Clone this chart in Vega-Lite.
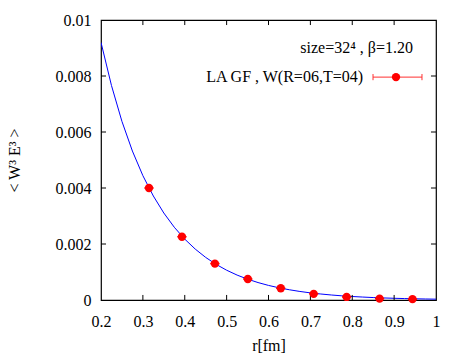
{
  "$schema": "https://vega.github.io/schema/vega-lite/v6.json",
  "width": 335,
  "height": 280,
  "autosize": "none",
  "padding": {"left": 101, "top": 20, "right": 27, "bottom": 54},
  "background": "white",
  "config": {
    "view": {"stroke": "black", "strokeWidth": 1.2},
    "font": "Liberation Serif",
    "axis": {"grid": false, "domain": false, "ticks": false, "labelFlush": false, "labelFont": "Liberation Serif", "labelFontSize": 16, "labelColor": "black", "titleFont": "Liberation Serif", "titleFontSize": 16, "titleFontWeight": "normal", "titleColor": "black"}
  },
  "datasets": {
    "pts": [
      {"r": 0.3146, "v": 0.00400, "rlo": 0.3036, "rhi": 0.3256},
      {"r": 0.3933, "v": 0.00226, "rlo": 0.3823, "rhi": 0.4043},
      {"r": 0.4720, "v": 0.00130, "rlo": 0.4610, "rhi": 0.4830},
      {"r": 0.5506, "v": 0.00075, "rlo": 0.5396, "rhi": 0.5616},
      {"r": 0.6293, "v": 0.00042, "rlo": 0.6183, "rhi": 0.6403},
      {"r": 0.7079, "v": 0.00022, "rlo": 0.6969, "rhi": 0.7189},
      {"r": 0.7866, "v": 0.00011, "rlo": 0.7756, "rhi": 0.7976},
      {"r": 0.8653, "v": 0.00005, "rlo": 0.8543, "rhi": 0.8763},
      {"r": 0.9439, "v": 0.00003, "rlo": 0.9329, "rhi": 0.9549}
    ],
    "fit": [
      {"r": 0.2, "v": 0.00920}, {"r": 0.225, "v": 0.00766}, {"r": 0.25, "v": 0.00638},
      {"r": 0.275, "v": 0.005320}, {"r": 0.3, "v": 0.00444}, {"r": 0.325, "v": 0.003714},
      {"r": 0.35, "v": 0.003107}, {"r": 0.375, "v": 0.002599}, {"r": 0.4, "v": 0.002174},
      {"r": 0.425, "v": 0.001819}, {"r": 0.45, "v": 0.001521}, {"r": 0.475, "v": 0.001272},
      {"r": 0.5, "v": 0.001064}, {"r": 0.525, "v": 0.00089}, {"r": 0.55, "v": 0.000745},
      {"r": 0.575, "v": 0.000623}, {"r": 0.6, "v": 0.000521}, {"r": 0.625, "v": 0.000436},
      {"r": 0.65, "v": 0.000365}, {"r": 0.675, "v": 0.000305}, {"r": 0.7, "v": 0.000255},
      {"r": 0.725, "v": 0.000214}, {"r": 0.75, "v": 0.000179}, {"r": 0.775, "v": 0.000149},
      {"r": 0.8, "v": 0.000125}, {"r": 0.825, "v": 0.000105}, {"r": 0.85, "v": 0.0000874},
      {"r": 0.875, "v": 0.0000731}, {"r": 0.9, "v": 0.0000612}, {"r": 0.925, "v": 0.0000512},
      {"r": 0.95, "v": 0.0000428}, {"r": 0.975, "v": 0.0000358}, {"r": 1.0, "v": 0.00003}
    ],
    "ticks": [
      {"x": 0.3, "x2": 0.3, "y": 0, "y2": 0.00018}, {"x": 0.4, "x2": 0.4, "y": 0, "y2": 0.00018},
      {"x": 0.5, "x2": 0.5, "y": 0, "y2": 0.00018}, {"x": 0.6, "x2": 0.6, "y": 0, "y2": 0.00018},
      {"x": 0.7, "x2": 0.7, "y": 0, "y2": 0.00018}, {"x": 0.8, "x2": 0.8, "y": 0, "y2": 0.00018},
      {"x": 0.9, "x2": 0.9, "y": 0, "y2": 0.00018},
      {"x": 0.3, "x2": 0.3, "y": 0.01, "y2": 0.00982}, {"x": 0.4, "x2": 0.4, "y": 0.01, "y2": 0.00982},
      {"x": 0.5, "x2": 0.5, "y": 0.01, "y2": 0.00982}, {"x": 0.6, "x2": 0.6, "y": 0.01, "y2": 0.00982},
      {"x": 0.7, "x2": 0.7, "y": 0.01, "y2": 0.00982}, {"x": 0.8, "x2": 0.8, "y": 0.01, "y2": 0.00982},
      {"x": 0.9, "x2": 0.9, "y": 0.01, "y2": 0.00982},
      {"x": 0.2, "x2": 0.212, "y": 0.002, "y2": 0.002}, {"x": 0.2, "x2": 0.212, "y": 0.004, "y2": 0.004},
      {"x": 0.2, "x2": 0.212, "y": 0.006, "y2": 0.006}, {"x": 0.2, "x2": 0.212, "y": 0.008, "y2": 0.008},
      {"x": 1.0, "x2": 0.988, "y": 0.002, "y2": 0.002}, {"x": 1.0, "x2": 0.988, "y": 0.004, "y2": 0.004},
      {"x": 1.0, "x2": 0.988, "y": 0.006, "y2": 0.006}, {"x": 1.0, "x2": 0.988, "y": 0.008, "y2": 0.008}
    ],
    "labels": [
      {"r": 0.945, "v": 0.0090, "t": "size=32⁴ , β=1.20"},
      {"r": 0.8257, "v": 0.00796, "t": "LA GF , W(R=06,T=04)"}
    ],
    "key": [
      {"r": 0.9045, "v": 0.00796, "rlo": 0.8496, "rhi": 0.9665}
    ],
    "caps": [
      {"x": 0.8496, "x2": 0.8496, "y": 0.00785, "y2": 0.00807},
      {"x": 0.9665, "x2": 0.9665, "y": 0.00785, "y2": 0.00807}
    ]
  },
  "layer": [
    {
      "data": {"name": "fit"},
      "mark": {"type": "line", "color": "#0000ff", "strokeWidth": 1, "clip": true},
      "encoding": {
        "x": {"field": "r", "type": "quantitative", "scale": {"domain": [0.2, 1], "nice": false, "zero": false},
          "axis": {"orient": "bottom", "values": [0.2,0.3,0.4,0.5,0.6,0.7,0.8,0.9,1], "format": ".1~f", "labelPadding": 13, "title": "r[fm]", "titlePadding": 8}},
        "y": {"field": "v", "type": "quantitative", "scale": {"domain": [0, 0.01], "nice": false},
          "axis": {"orient": "left", "values": [0,0.002,0.004,0.006,0.008,0.01], "format": ".3~f", "labelPadding": 10, "title": "< W³ E³ >", "titlePadding": 33}}
      }
    },
    {
      "data": {"name": "ticks"},
      "mark": {"type": "rule", "color": "black", "strokeWidth": 1},
      "encoding": {
        "x": {"field": "x", "type": "quantitative", "axis": null},
        "x2": {"field": "x2"},
        "y": {"field": "y", "type": "quantitative", "axis": null},
        "y2": {"field": "y2"}
      }
    },
    {
      "data": {"name": "pts"},
      "mark": {"type": "rule", "color": "#ff0000", "strokeWidth": 1.5},
      "encoding": {
        "x": {"field": "rlo", "type": "quantitative", "axis": null},
        "x2": {"field": "rhi"},
        "y": {"field": "v", "type": "quantitative", "axis": null}
      }
    },
    {
      "data": {"name": "pts"},
      "mark": {"type": "point", "filled": true, "color": "#ff0000", "size": 70, "opacity": 1},
      "encoding": {
        "x": {"field": "r", "type": "quantitative", "axis": null},
        "y": {"field": "v", "type": "quantitative", "axis": null}
      }
    },
    {
      "data": {"name": "key"},
      "mark": {"type": "rule", "color": "#ff3030", "strokeWidth": 1},
      "encoding": {
        "x": {"field": "rlo", "type": "quantitative", "axis": null},
        "x2": {"field": "rhi"},
        "y": {"field": "v", "type": "quantitative", "axis": null}
      }
    },
    {
      "data": {"name": "caps"},
      "mark": {"type": "rule", "color": "#ff3030", "strokeWidth": 1},
      "encoding": {
        "x": {"field": "x", "type": "quantitative", "axis": null},
        "x2": {"field": "x2"},
        "y": {"field": "y", "type": "quantitative", "axis": null},
        "y2": {"field": "y2"}
      }
    },
    {
      "data": {"name": "key"},
      "mark": {"type": "point", "filled": true, "color": "#ff0000", "size": 70, "opacity": 1},
      "encoding": {
        "x": {"field": "r", "type": "quantitative", "axis": null},
        "y": {"field": "v", "type": "quantitative", "axis": null}
      }
    },
    {
      "data": {"name": "labels"},
      "mark": {"type": "text", "align": "right", "baseline": "middle", "fontSize": 16, "font": "Liberation Serif", "color": "black"},
      "encoding": {
        "x": {"field": "r", "type": "quantitative", "axis": null},
        "y": {"field": "v", "type": "quantitative", "axis": null},
        "text": {"field": "t"}
      }
    }
  ],
  "resolve": {"axis": {"x": "independent", "y": "independent"}}
}
